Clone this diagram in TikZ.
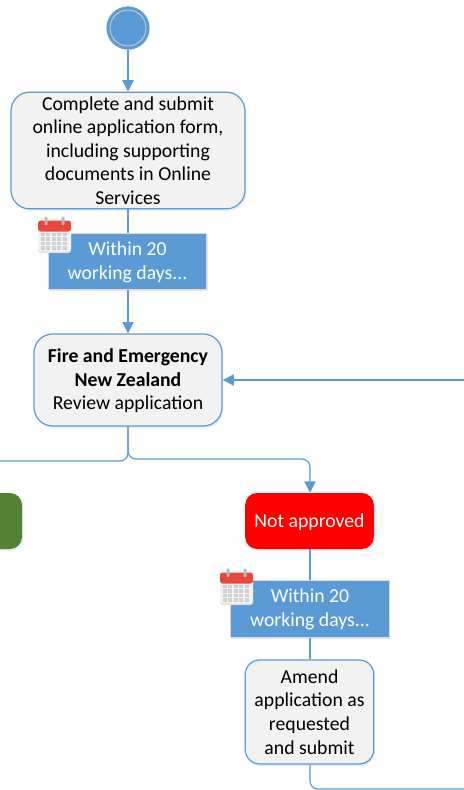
\documentclass[tikz,border=0pt]{standalone}
\usepackage{fontspec}
\setmainfont{Carlito}
\usetikzlibrary{shadows,arrows.meta,calc}
\definecolor{flowblue}{HTML}{5B9BD5}
\definecolor{boxfill}{HTML}{F2F2F2}
\definecolor{leaf}{HTML}{548235}
\definecolor{calred}{HTML}{E8483A}
\newcommand{\dropped}[2]{\raisebox{-#1}[\height][\depth]{\begin{tabular}{@{}c@{}}#2\end{tabular}}}
\tikzset{
  softshadow/.style={drop shadow={shadow xshift=1pt,shadow yshift=-1.5pt,fill=flowblue,opacity=.16}},
  activity/.style={draw=flowblue,line width=.9pt,fill=boxfill,rounded corners=14pt,align=center,inner sep=0pt,text=black,font=\fontsize{14.8pt}{17.7pt}\selectfont,softshadow},
  timer/.style={draw=black!14,line width=.7pt,fill=flowblue,align=center,inner sep=0pt,text=white,font=\fontsize{14.8pt}{17.7pt}\selectfont,minimum width=119pt,minimum height=42.5pt,drop shadow={shadow xshift=.8pt,shadow yshift=-1.2pt,fill=black,opacity=.1}},
  outcome/.style={rounded corners=9pt,inner sep=0pt,text=white,align=center,minimum height=42pt,font=\fontsize{14.8pt}{17.7pt}\selectfont,softshadow},
  link/.style={draw=flowblue,line width=.9pt,rounded corners=6pt},
  arrowlink/.style={link,-{Triangle[width=8.5pt,length=8.5pt]}},
  calendar/.pic={
    \fill[black!12,rounded corners=2pt] (-16.5,-10) rectangle (16.5,18.5);
    \fill[white!95!black,rounded corners=2pt] (-16.5,-7) rectangle (16.5,17);
    \fill[calred,rounded corners=2pt] (-16.5,-14) rectangle (16.5,-3);
    \fill[black!28,rounded corners=1pt] (-10,-18) rectangle (-7,-9);
    \fill[black!28,rounded corners=1pt] (7,-18) rectangle (10,-9);
    \foreach \cx in {-12,-6.5,-1,4.5,10}
      \foreach \cy in {0,4.5,9,13.5}
        \fill[black!18] (\cx-2,\cy-1.6) rectangle (\cx+2,\cy+1.6);
  }
}
\begin{document}
\begin{tikzpicture}[x=.75pt,y=-.75pt]
\useasboundingbox (0,0) rectangle (464,790);
\clip (0,0) rectangle (464,790);
\fill[white] (0,0) rectangle (464,790);
% nodes
\node[circle,draw=flowblue,line width=2.4pt,fill=flowblue,minimum size=30pt,inner sep=0pt,softshadow] (start) at (128,28) {};
\node[circle,draw=black!22,line width=.7pt,minimum size=27pt,inner sep=0pt] (startring) at (start.center) {};
\node[activity,minimum width=175.5pt,minimum height=87.5pt] (submit) at (128,150.5)
  {Complete and submit\\online application form,\\including supporting\\documents in Online\\Services};
\node[timer] (wait1) at (127.5,261.5) {\dropped{.8pt}{Within 20\\working days.{}.{}.}};
\node[activity,minimum width=141pt,minimum height=69pt] (review) at (128,380)
  {\dropped{1pt}{\textbf{Fire and Emergency}\\\textbf{New Zealand}\\Review application}};
\node[outcome,fill=leaf,minimum width=120pt] (approved) at (-58,521) {};
\node[outcome,fill=red,minimum width=96.5pt] (notapproved) at (309.5,521) {\dropped{1.5pt}{Not approved}};
\node[timer] (wait2) at (310,609) {\dropped{.8pt}{Within 20\\working days.{}.{}.}};
\node[activity,minimum width=96.5pt,minimum height=78pt,rounded corners=11pt] (amend) at (309.5,712)
  {Amend\\application as\\requested\\and submit};
\coordinate (offleft) at (-10,461);
\coordinate (offright) at (474,789);
\coordinate (inright) at (474,380);
\coordinate (redjoin) at (310,459);
% connectors
\draw[arrowlink] (start) -- (submit);
\draw[arrowlink] (wait1.south -| review.north) -- (review);
\draw[link] (submit.south) -- (wait1.north -| submit.south);
\draw[link] (review.south) |- (offleft);
\draw[arrowlink] (review.south) -- (128,459) -- (redjoin) -- (redjoin |- notapproved.north);
\draw[link] (redjoin |- notapproved.south) -- (redjoin |- wait2.north);
\draw[link] (redjoin |- wait2.south) -- (redjoin |- amend.north);
\draw[link] (redjoin |- amend.south) |- (offright);
\draw[arrowlink] (inright) -- (review.east);
% icons
\path (54.5,234.5) pic {calendar};
\path (236.5,586.5) pic {calendar};
\end{tikzpicture}
\end{document}
